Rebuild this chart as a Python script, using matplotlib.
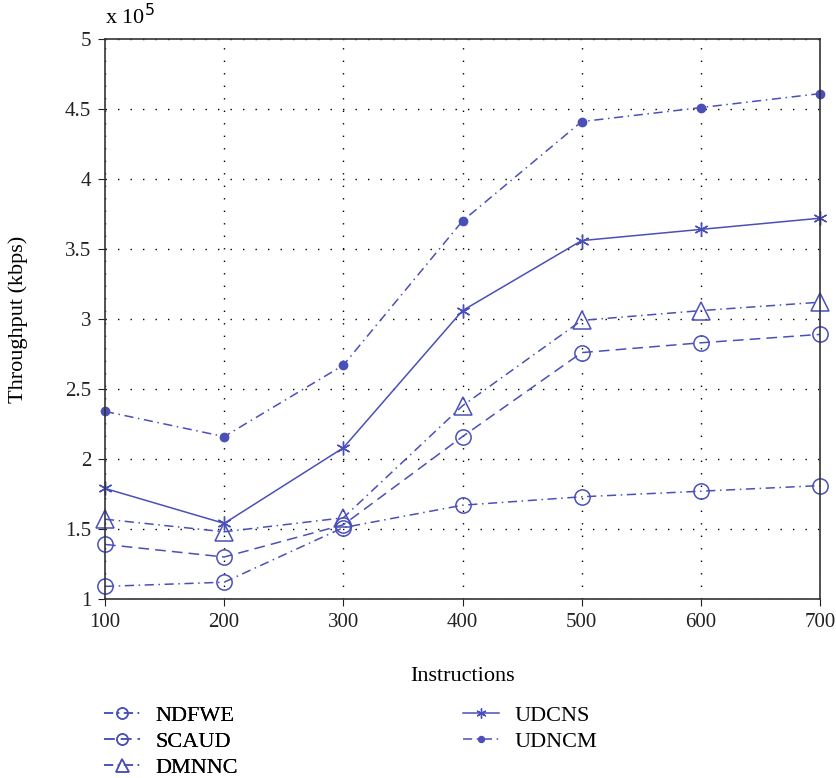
import numpy as np
import matplotlib.pyplot as plt

plt.rcParams['font.family'] = ['Liberation Serif', 'DejaVu Serif']

instructions = [100, 200, 300, 400, 500, 600, 700]
# throughput in units of 1e5 kbps
ndfwe = [1.09, 1.12, 1.51, 1.67, 1.73, 1.77, 1.81]
scaud = [1.39, 1.30, 1.53, 2.16, 2.76, 2.83, 2.89]
dmnnc = [1.57, 1.48, 1.58, 2.38, 2.99, 3.06, 3.12]
udcns = [1.79, 1.54, 2.08, 3.06, 3.56, 3.64, 3.72]
udncm = [2.34, 2.16, 2.67, 3.70, 4.41, 4.51, 4.61]

col = '#4a50b8'
dashdot = (6, 3, 1, 3)

fig = plt.figure(figsize=(8.37, 7.78), dpi=100)
ax = fig.add_axes([105/837, 1 - 599/778, 715/837, 560/778])

l1, = ax.plot(instructions, ndfwe, color=col, lw=1.1, dashes=dashdot,
              marker='o', ms=11, mfc='none', mew=1.1, label='NDFWE', clip_on=False)
l2, = ax.plot(instructions, scaud, color=col, lw=1.1, dashes=(7, 4),
              marker='o', ms=11, mfc='none', mew=1.1, label='SCAUD', clip_on=False)
l3, = ax.plot(instructions, dmnnc, color=col, lw=1.1, dashes=dashdot,
              marker='^', ms=13, mfc='none', mew=1.1, label='DMNNC', clip_on=False)
l4, = ax.plot(instructions, udcns, color=col, lw=1.1, ls='-',
              marker=(6, 2, 0), ms=10, mew=1.0, label='UDCNS', clip_on=False)
l5, = ax.plot(instructions, udncm, color=col, lw=1.1, dashes=dashdot,
              marker='o', ms=6, mfc=col, mec=col, label='UDNCM', clip_on=False)

ax.set_xlim(100, 700)
ax.set_ylim(1, 5)
ax.set_xticks(instructions)
ax.set_yticks(np.arange(1, 5.01, 0.5))
ax.set_yticklabels(['1', '1.5', '2', '2.5', '3', '3.5', '4', '4.5', '5'])
ax.grid(True, color='black', ls=(0, (1, 8)), lw=1.0)
ax.tick_params(direction='out', length=5, labelsize=15, colors='#222222', pad=5)
for s in ax.spines.values():
    s.set_color('#333333')
    s.set_linewidth(1.2)

ax.set_xlabel('Instructions', fontsize=16)
ax.set_ylabel('Throughput (kbps)', fontsize=16)
ax.xaxis.set_label_coords(0.5, -0.121)
ax.yaxis.set_label_coords(-0.107, 0.5)
ax.text(0.0, 1.018, r'x 10$^{5}$', transform=ax.transAxes, fontsize=16,
        ha='left', va='bottom')

leg_kw = dict(loc='upper left', frameon=False, fontsize=16, handlelength=1.6,
              labelspacing=0.25, borderpad=0, borderaxespad=0, handletextpad=0.7,
              markerscale=0.72)
leg1 = fig.legend(handles=[l1, l2, l3], bbox_to_anchor=(104/837, 1 - 705/778), **leg_kw)
fig.add_artist(leg1)
fig.legend(handles=[l4, l5], bbox_to_anchor=(463/837, 1 - 705/778), **leg_kw)

fig.savefig('out.png', dpi=100)
